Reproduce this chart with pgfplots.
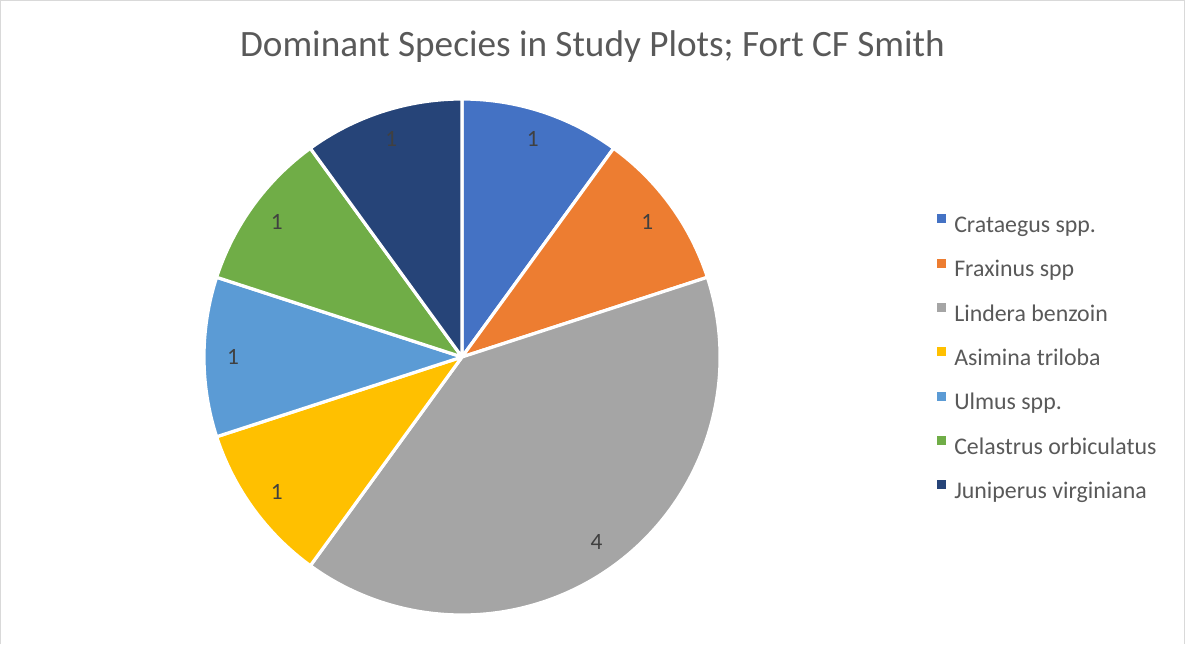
\documentclass[border=0pt]{standalone}
\usepackage{pgfplots}
\pgfplotsset{compat=1.18}
\usepackage{pgfplotstable}
\usepackage{fontspec}
\setmainfont{Carlito}
\usetikzlibrary{calc}
\definecolor{c0}{HTML}{4472C4}
\definecolor{c1}{HTML}{ED7D31}
\definecolor{c2}{HTML}{A5A5A5}
\definecolor{c3}{HTML}{FFC000}
\definecolor{c4}{HTML}{5B9BD5}
\definecolor{c5}{HTML}{70AD47}
\definecolor{c6}{HTML}{264478}
\definecolor{titlegray}{HTML}{595959}
\definecolor{labelgray}{HTML}{404040}
\definecolor{bordergray}{HTML}{D9D9D9}

\pgfplotstableread[col sep=comma]{
species,count
Crataegus spp.,1
Fraxinus spp,1
Lindera benzoin,4
Asimina triloba,1
Ulmus spp.,1
Celastrus orbiculatus,1
Juniperus virginiana,1
}\piedata

% total of the counts
\gdef\pietotal{0}
\foreach \i in {0,...,6}{%
  \pgfplotstablegetelem{\i}{count}\of\piedata
  \pgfmathsetmacro\newtot{\pietotal+\pgfplotsretval}%
  \global\let\pietotal\newtot
}
% slice angles (clockwise from 12 o'clock)
\gdef\piecum{0}
\foreach \i in {0,...,6}{%
  \pgfplotstablegetelem{\i}{count}\of\piedata
  \edef\pieval{\pgfplotsretval}%
  \pgfmathsetmacro\angs{90-360*\piecum/\pietotal}%
  \pgfmathsetmacro\ange{90-360*(\piecum+\pieval)/\pietotal}%
  \pgfmathsetmacro\angm{(\angs+\ange)/2}%
  \expandafter\xdef\csname sA\i\endcsname{\angs}%
  \expandafter\xdef\csname sE\i\endcsname{\ange}%
  \expandafter\xdef\csname sM\i\endcsname{\angm}%
  \expandafter\xdef\csname sV\i\endcsname{\pieval}%
  \pgfplotstablegetelem{\i}{species}\of\piedata
  \expandafter\xdef\csname sN\i\endcsname{\pgfplotsretval}%
  \pgfmathsetmacro\newcum{\piecum+\pieval}%
  \global\let\piecum\newcum
}

\begin{document}
\begin{tikzpicture}
\begin{axis}[
  x=0.75pt, y=0.75pt,
  xmin=0, xmax=1185, ymin=0, ymax=644,
  hide axis, clip=false,
  legend cell align=left,
  legend image code/.code={\fill[#1] (0pt,2.25pt) rectangle (6.75pt,9pt);},
  legend style={
    at={(axis cs:937,285)}, anchor=west,
    draw=none, fill=none, inner sep=0pt,
    font=\fontsize{17.9}{21}\selectfont, text=titlegray,
    row sep=15.75pt,
    nodes={inner sep=0pt, text height=13pt, text depth=4pt},
    /tikz/every odd column/.append style={column sep=6pt},
  },
]
\coordinate (ll) at (axis cs:0,0);
\coordinate (ur) at (axis cs:1185,644);
\draw[bordergray, line width=0.9pt] (axis cs:0.6,0) -- (axis cs:0.6,643.4) -- (axis cs:1184.4,643.4) -- (axis cs:1184.4,0);
\node[font=\fontsize{27.9}{33}\selectfont, text=titlegray, anchor=base] at (axis cs:592.5,587) {Dominant Species in Study Plots; Fort CF Smith};
\pgfplotsinvokeforeach{0,...,6}{
  \addlegendimage{fill=c#1, draw=none}
  \addlegendentry{\csname sN#1\endcsname}
  \fill[c#1, draw=white, line width=2.4pt, line join=round]
    (axis cs:462,287) -- ++(\csname sA#1\endcsname:193.5pt)
    arc[start angle=\csname sA#1\endcsname, end angle=\csname sE#1\endcsname, radius=193.5pt] -- cycle;
}
\pgfplotsinvokeforeach{0,...,6}{
  \path (axis cs:462,287) ++(\csname sM#1\endcsname:171.75pt)
    node[font=\fontsize{17.5}{21}\selectfont, text=labelgray] {\csname sV#1\endcsname};
}
\end{axis}
\pgfresetboundingbox
\useasboundingbox (ll) rectangle (ur);
\end{tikzpicture}
\end{document}
